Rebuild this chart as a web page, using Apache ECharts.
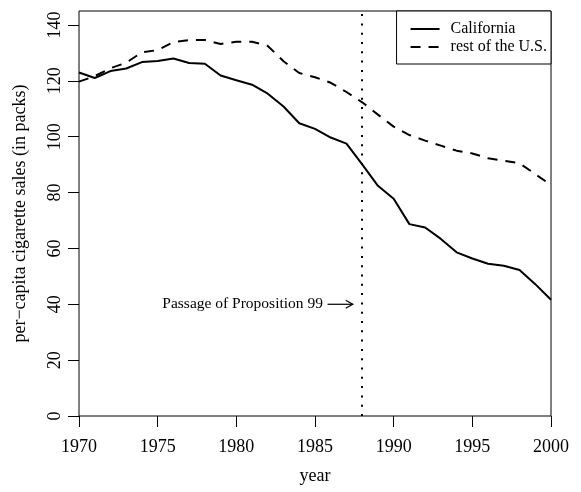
<!DOCTYPE html>
<html>
<head>
<meta charset="utf-8">
<script src="https://cdn.jsdelivr.net/npm/echarts@6/dist/echarts.min.js"></script>
<style>html,body{margin:0;padding:0;background:#fff;}#c{width:581px;height:492px;}</style>
</head>
<body>
<div id="c"></div>
<script>
const years = [1970,1971,1972,1973,1974,1975,1976,1977,1978,1979,1980,1981,1982,1983,1984,1985,1986,1987,1988,1989,1990,1991,1992,1993,1994,1995,1996,1997,1998,1999,2000];
const california = [123.0,121.0,123.5,124.4,126.7,127.1,128.0,126.4,126.1,121.9,120.2,118.6,115.4,110.8,104.8,102.8,99.7,97.5,90.1,82.4,77.8,68.7,67.5,63.4,58.6,56.4,54.5,53.8,52.3,47.2,41.6];
const restUS = [119.7,121.7,124.5,126.5,130.2,131.0,133.9,134.6,134.6,133.2,134.0,134.0,132.5,127.0,122.8,121.3,119.3,116.0,112.3,107.9,103.6,100.6,98.6,96.8,95.0,94.0,92.3,91.4,90.5,86.6,82.7];
const yTicks = [0,20,40,60,80,100,120,140];
const interventionYear = 1988;
const annotationText = 'Passage of Proposition 99';
const annotationPos = [1980.4, 40];
const arrowSeg = [[1985.8, 1987.4, 40]];

const FONT = 'Liberation Serif';
const DASH = [10, 8];
const chart = echarts.init(document.getElementById('c'), null, {renderer: 'canvas'});
chart.setOption({
  backgroundColor: '#fff',
  animation: false,
  textStyle: {fontFamily: FONT, color: '#000'},
  grid: {left: 79, right: 30, top: 11, bottom: 76, show: true, borderColor: '#000', borderWidth: 1, backgroundColor: 'transparent'},
  legend: {
    right: 30, top: 11, orient: 'vertical',
    data: [
      {name: 'California'},
      {name: 'rest of the U.S.', lineStyle: {type: DASH, width: 2, color: '#000'}}
    ],
    borderColor: '#000', borderWidth: 1, borderRadius: 0, backgroundColor: '#fff',
    padding: [10, 4, 9, 13],
    itemWidth: 29, itemHeight: 14, itemGap: 2,
    itemStyle: {color: 'rgba(0,0,0,0)', borderWidth: 0, opacity: 0},
    textStyle: {fontFamily: FONT, fontSize: 16, color: '#000', lineHeight: 16, padding: [0, 0, 0, 6]}
  },
  xAxis: {
    type: 'value', min: 1970, max: 2000, interval: 5,
    name: 'year', nameLocation: 'middle', nameGap: 51,
    nameTextStyle: {fontFamily: FONT, fontSize: 18, color: '#000'},
    axisLine: {show: false},
    axisTick: {show: true, inside: false, length: 11, lineStyle: {color: '#000', width: 1}},
    axisLabel: {fontFamily: FONT, fontSize: 18, color: '#000', margin: 22, formatter: v => String(v)},
    splitLine: {show: false}
  },
  yAxis: {
    type: 'value', min: 0, max: 145, interval: 20,
    name: 'per\u2212capita cigarette sales (in packs)', nameLocation: 'middle', nameGap: 50,
    nameTextStyle: {fontFamily: FONT, fontSize: 18, color: '#000'},
    axisLine: {show: false},
    axisTick: {show: true, inside: false, length: 11, lineStyle: {color: '#000', width: 1}, customValues: yTicks},
    axisLabel: {fontFamily: FONT, fontSize: 18, color: '#000', margin: 15, rotate: 90, customValues: yTicks},
    splitLine: {show: false}
  },
  series: [
    {
      name: 'California', type: 'line', symbol: 'none',
      data: years.map((y, i) => [y, california[i]]),
      lineStyle: {color: '#000', width: 2, type: 'solid'},
      itemStyle: {color: '#000'},
      markLine: {
        silent: true, symbol: ['none', 'none'], label: {show: false},
        lineStyle: {color: '#000', width: 2, type: [2, 7.3], cap: 'butt'},
        data: [{xAxis: interventionYear}]
      }
    },
    {
      name: 'rest of the U.S.', type: 'line', symbol: 'none',
      data: years.map((y, i) => [y, restUS[i]]),
      lineStyle: {color: '#000', width: 2, type: DASH},
      itemStyle: {color: '#000'}
    },
    {
      type: 'custom', silent: true, clip: false,
      data: arrowSeg,
      encode: {x: [0, 1], y: 2},
      renderItem: function (params, api) {
        const p1 = api.coord([api.value(0), api.value(2)]);
        const p2 = api.coord([api.value(1), api.value(2)]);
        return {
          type: 'group',
          children: [
            {type: 'line', shape: {x1: p1[0], y1: p1[1], x2: p2[0], y2: p2[1]}, style: {stroke: '#000', lineWidth: 1.2}},
            {type: 'polyline', shape: {points: [[p2[0] - 7, p2[1] - 4], [p2[0], p2[1]], [p2[0] - 7, p2[1] + 4]]}, style: {stroke: '#000', fill: 'none', lineWidth: 1.2}}
          ]
        };
      }
    },
    {
      type: 'custom', silent: true, clip: false,
      data: [annotationPos],
      renderItem: function (params, api) {
        const p = api.coord([api.value(0), api.value(1)]);
        return {
          type: 'text',
          style: {x: p[0], y: p[1], text: annotationText, fill: '#000', fontFamily: FONT, fontSize: 15.5, align: 'center', verticalAlign: 'middle'}
        };
      }
    }
  ]
});
</script>
</body>
</html>
